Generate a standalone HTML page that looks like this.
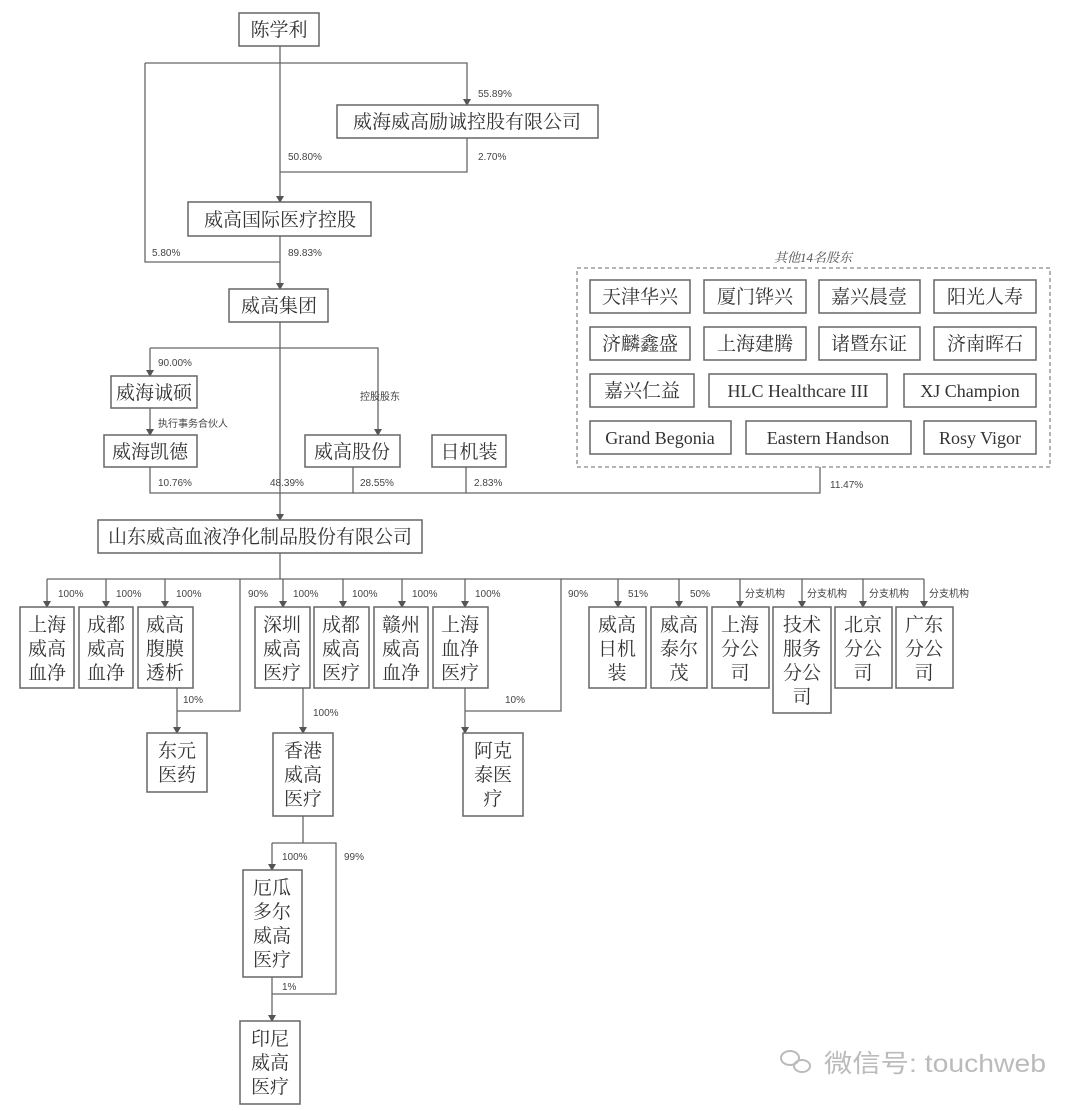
<!DOCTYPE html>
<html><head><meta charset="utf-8"><style>
html,body{margin:0;padding:0;background:#fff;}
svg{display:block;}
.b{fill:#fff;stroke:#666;stroke-width:1.5;}
.l{fill:none;stroke:#666;stroke-width:1.3;}
.t{font-family:"Liberation Serif","Noto Serif CJK SC",serif;font-size:19px;fill:#333;text-anchor:middle;}
.e{font-family:"Liberation Serif",serif;font-size:18px;fill:#333;text-anchor:middle;}
.p{font-family:"Liberation Sans","Noto Sans CJK SC",sans-serif;font-size:10px;fill:#444;}
</style></head><body>
<svg width="1080" height="1110" viewBox="0 0 1080 1110" xmlns="http://www.w3.org/2000/svg">
<defs>
<marker id="d" markerWidth="8" markerHeight="7" refX="4" refY="6" orient="0" markerUnits="userSpaceOnUse"><path d="M0,0 L8,0 L4,7 z" fill="#555"/></marker></defs>

<path class="l" d="M280,46 V202" marker-end="url(#d)"/>
<path class="l" d="M145,63 H467 V105" marker-end="url(#d)"/>
<path class="l" d="M145,63 V262 H280"/>
<path class="l" d="M467,138 V172 H280"/>
<path class="l" d="M280,236 V289" marker-end="url(#d)"/>
<path class="l" d="M280,322 V520" marker-end="url(#d)"/>
<path class="l" d="M150,348 H378 V435" marker-end="url(#d)"/>
<path class="l" d="M150,348 V376" marker-end="url(#d)"/>
<path class="l" d="M150,408 V435" marker-end="url(#d)"/>
<path class="l" d="M150,467 V493 H820 V467"/>
<path class="l" d="M353,467 V493"/>
<path class="l" d="M466,467 V493"/>

<rect class="b" x="239" y="13" width="80" height="33"/><text class="t" x="279" y="36">陈学利</text>
<rect class="b" x="337" y="105" width="261" height="33"/><text class="t" x="467" y="128">威海威高励诚控股有限公司</text>
<rect class="b" x="188" y="202" width="183" height="34"/><text class="t" x="280" y="226">威高国际医疗控股</text>
<rect class="b" x="229" y="289" width="99" height="33"/><text class="t" x="279" y="312">威高集团</text>
<rect class="b" x="111" y="376" width="86" height="32"/><text class="t" x="154" y="399">威海诚硕</text>
<rect class="b" x="104" y="435" width="93" height="32"/><text class="t" x="150" y="458">威海凯德</text>
<rect class="b" x="305" y="435" width="95" height="32"/><text class="t" x="352" y="458">威高股份</text>
<rect class="b" x="432" y="435" width="74" height="32"/><text class="t" x="469" y="458">日机装</text>
<rect class="b" x="98" y="520" width="324" height="33"/><text class="t" x="260" y="543">山东威高血液净化制品股份有限公司</text>

<text class="p" x="478" y="97">55.89%</text>
<text class="p" x="288" y="160">50.80%</text>
<text class="p" x="478" y="160">2.70%</text>
<text class="p" x="152" y="256">5.80%</text>
<text class="p" x="288" y="256">89.83%</text>
<text class="p" x="158" y="366">90.00%</text>
<text class="p" x="158" y="427">执行事务合伙人</text>
<text class="p" x="360" y="400">控股股东</text>
<text class="p" x="158" y="486">10.76%</text>
<text class="p" x="270" y="486">48.39%</text>
<text class="p" x="360" y="486">28.55%</text>
<text class="p" x="474" y="486">2.83%</text>
<text class="p" x="830" y="488">11.47%</text>

<text x="813" y="262" style="font-family:'Liberation Serif','Noto Serif CJK SC',serif;font-size:13px;font-style:italic;fill:#555;text-anchor:middle">其他14名股东</text>
<rect x="577" y="268" width="473" height="199" fill="none" stroke="#888" stroke-width="1.3" stroke-dasharray="4,3"/>
<rect class="b" x="590" y="280" width="100" height="33"/><text class="t" x="640" y="303">天津华兴</text>
<rect class="b" x="704" y="280" width="102" height="33"/><text class="t" x="755" y="303">厦门铧兴</text>
<rect class="b" x="819" y="280" width="101" height="33"/><text class="t" x="869" y="303">嘉兴晨壹</text>
<rect class="b" x="934" y="280" width="102" height="33"/><text class="t" x="985" y="303">阳光人寿</text>
<rect class="b" x="590" y="327" width="100" height="33"/><text class="t" x="640" y="350">济麟鑫盛</text>
<rect class="b" x="704" y="327" width="102" height="33"/><text class="t" x="755" y="350">上海建腾</text>
<rect class="b" x="819" y="327" width="101" height="33"/><text class="t" x="869" y="350">诸暨东证</text>
<rect class="b" x="934" y="327" width="102" height="33"/><text class="t" x="985" y="350">济南晖石</text>
<rect class="b" x="590" y="374" width="104" height="33"/><text class="t" x="642" y="397">嘉兴仁益</text>
<rect class="b" x="709" y="374" width="178" height="33"/><text class="e" x="798" y="397">HLC Healthcare III</text>
<rect class="b" x="904" y="374" width="132" height="33"/><text class="e" x="970" y="397">XJ Champion</text>
<rect class="b" x="590" y="421" width="141" height="33"/><text class="e" x="660" y="444">Grand Begonia</text>
<rect class="b" x="746" y="421" width="165" height="33"/><text class="e" x="828" y="444">Eastern Handson</text>
<rect class="b" x="924" y="421" width="112" height="33"/><text class="e" x="980" y="444">Rosy Vigor</text>

<path class="l" d="M280,553 V579 M47,579 H924"/>
<g marker-end="url(#d)">
<path class="l" d="M47,579 V607"/><path class="l" d="M106,579 V607"/><path class="l" d="M165,579 V607"/>
<path class="l" d="M283,579 V607"/><path class="l" d="M343,579 V607"/><path class="l" d="M402,579 V607"/><path class="l" d="M465,579 V607"/>
<path class="l" d="M618,579 V607"/><path class="l" d="M679,579 V607"/><path class="l" d="M740,579 V607"/><path class="l" d="M802,579 V607"/><path class="l" d="M863,579 V607"/><path class="l" d="M924,579 V607"/>
<path class="l" d="M177,688 V733"/><path class="l" d="M303,688 V733"/><path class="l" d="M465,688 V733"/>
<path class="l" d="M272,843 V870"/><path class="l" d="M272,977 V1021"/>
</g>
<path class="l" d="M240,579 V711 H177"/>
<path class="l" d="M561,579 V711 H465"/>
<path class="l" d="M303,816 V843 H336 V994 H272 M272,843 H303"/>

<text class="p" x="58" y="597">100%</text><text class="p" x="116" y="597">100%</text><text class="p" x="176" y="597">100%</text>
<text class="p" x="248" y="597">90%</text><text class="p" x="293" y="597">100%</text><text class="p" x="352" y="597">100%</text>
<text class="p" x="412" y="597">100%</text><text class="p" x="475" y="597">100%</text><text class="p" x="568" y="597">90%</text>
<text class="p" x="628" y="597">51%</text><text class="p" x="690" y="597">50%</text>
<text class="p" x="745" y="597">分支机构</text><text class="p" x="807" y="597">分支机构</text><text class="p" x="869" y="597">分支机构</text><text class="p" x="929" y="597">分支机构</text>
<text class="p" x="183" y="703">10%</text><text class="p" x="505" y="703">10%</text><text class="p" x="313" y="716">100%</text>
<text class="p" x="282" y="860">100%</text><text class="p" x="344" y="860">99%</text><text class="p" x="282" y="990">1%</text>

<g>
<rect class="b" x="20" y="607" width="54" height="81"/><text class="t"><tspan x="47" y="631">上海</tspan><tspan x="47" y="655">威高</tspan><tspan x="47" y="679">血净</tspan></text>
<rect class="b" x="79" y="607" width="54" height="81"/><text class="t"><tspan x="106" y="631">成都</tspan><tspan x="106" y="655">威高</tspan><tspan x="106" y="679">血净</tspan></text>
<rect class="b" x="138" y="607" width="55" height="81"/><text class="t"><tspan x="165" y="631">威高</tspan><tspan x="165" y="655">腹膜</tspan><tspan x="165" y="679">透析</tspan></text>
<rect class="b" x="255" y="607" width="55" height="81"/><text class="t"><tspan x="282" y="631">深圳</tspan><tspan x="282" y="655">威高</tspan><tspan x="282" y="679">医疗</tspan></text>
<rect class="b" x="314" y="607" width="55" height="81"/><text class="t"><tspan x="341" y="631">成都</tspan><tspan x="341" y="655">威高</tspan><tspan x="341" y="679">医疗</tspan></text>
<rect class="b" x="374" y="607" width="54" height="81"/><text class="t"><tspan x="401" y="631">赣州</tspan><tspan x="401" y="655">威高</tspan><tspan x="401" y="679">血净</tspan></text>
<rect class="b" x="433" y="607" width="55" height="81"/><text class="t"><tspan x="460" y="631">上海</tspan><tspan x="460" y="655">血净</tspan><tspan x="460" y="679">医疗</tspan></text>
<rect class="b" x="589" y="607" width="57" height="81"/><text class="t"><tspan x="617" y="631">威高</tspan><tspan x="617" y="655">日机</tspan><tspan x="617" y="679">装</tspan></text>
<rect class="b" x="651" y="607" width="56" height="81"/><text class="t"><tspan x="679" y="631">威高</tspan><tspan x="679" y="655">泰尔</tspan><tspan x="679" y="679">茂</tspan></text>
<rect class="b" x="712" y="607" width="57" height="81"/><text class="t"><tspan x="740" y="631">上海</tspan><tspan x="740" y="655">分公</tspan><tspan x="740" y="679">司</tspan></text>
<rect class="b" x="773" y="607" width="58" height="106"/><text class="t"><tspan x="802" y="631">技术</tspan><tspan x="802" y="655">服务</tspan><tspan x="802" y="679">分公</tspan><tspan x="802" y="703">司</tspan></text>
<rect class="b" x="835" y="607" width="57" height="81"/><text class="t"><tspan x="863" y="631">北京</tspan><tspan x="863" y="655">分公</tspan><tspan x="863" y="679">司</tspan></text>
<rect class="b" x="896" y="607" width="57" height="81"/><text class="t"><tspan x="924" y="631">广东</tspan><tspan x="924" y="655">分公</tspan><tspan x="924" y="679">司</tspan></text>
<rect class="b" x="147" y="733" width="60" height="59"/><text class="t"><tspan x="177" y="757">东元</tspan><tspan x="177" y="781">医药</tspan></text>
<rect class="b" x="273" y="733" width="60" height="83"/><text class="t"><tspan x="303" y="757">香港</tspan><tspan x="303" y="781">威高</tspan><tspan x="303" y="805">医疗</tspan></text>
<rect class="b" x="463" y="733" width="60" height="83"/><text class="t"><tspan x="493" y="757">阿克</tspan><tspan x="493" y="781">泰医</tspan><tspan x="493" y="805">疗</tspan></text>
<rect class="b" x="243" y="870" width="59" height="107"/><text class="t"><tspan x="272" y="894">厄瓜</tspan><tspan x="272" y="918">多尔</tspan><tspan x="272" y="942">威高</tspan><tspan x="272" y="966">医疗</tspan></text>
<rect class="b" x="240" y="1021" width="60" height="83"/><text class="t"><tspan x="270" y="1045">印尼</tspan><tspan x="270" y="1069">威高</tspan><tspan x="270" y="1093">医疗</tspan></text>
</g>

<g fill="none" stroke="#bbb" stroke-width="2"><ellipse cx="790" cy="1058" rx="9" ry="7"/><ellipse cx="802" cy="1066" rx="8" ry="6"/></g>
<text x="824" y="1072" textLength="222" lengthAdjust="spacingAndGlyphs" style="font-family:'Liberation Sans','Noto Sans CJK SC',sans-serif;font-size:25px;fill:#bbb">微信号: touchweb</text>
</svg>
</body></html>
